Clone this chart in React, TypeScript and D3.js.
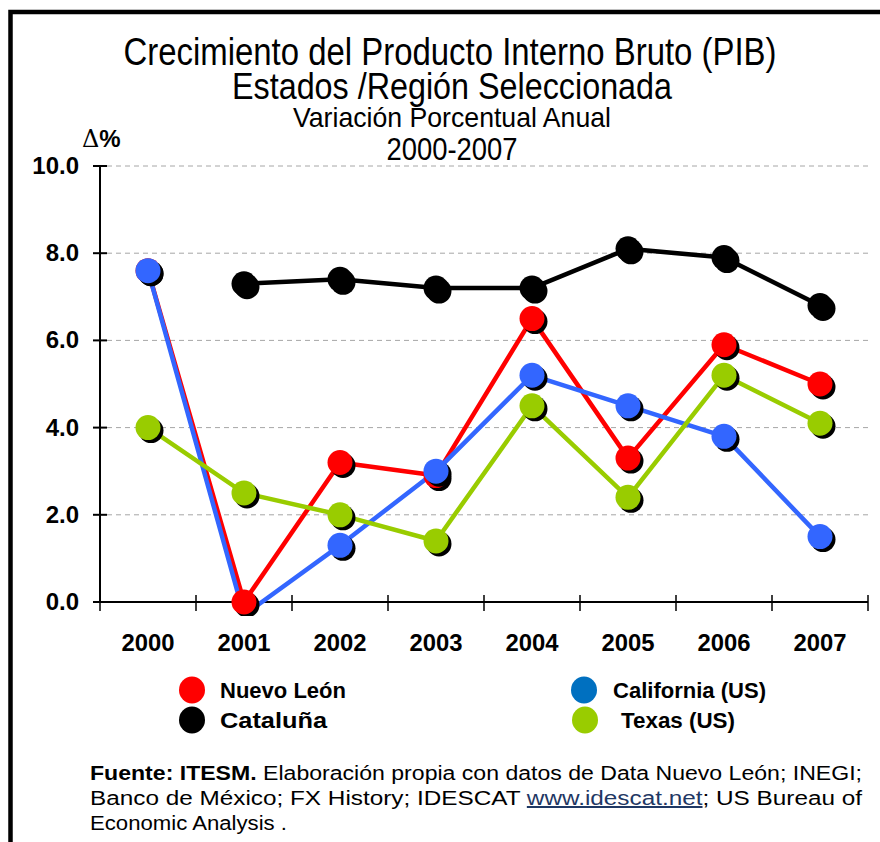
import React from 'react';
import * as d3 from 'd3';

const years = ['2000', '2001', '2002', '2003', '2004', '2005', '2006', '2007'];
const nuevoLeon: (number | null)[] = [7.6, 0.0, 3.2, 2.9, 6.5, 3.3, 5.9, 5.0];
const california: (number | null)[] = [7.6, -0.3, 1.3, 3.0, 5.2, 4.5, 3.8, 1.5];
const cataluna: (number | null)[] = [null, 7.3, 7.4, 7.2, 7.2, 8.1, 7.9, 6.8];
const texas: (number | null)[] = [4.0, 2.5, 2.0, 1.4, 4.5, 2.4, 5.2, 4.1];
const yTicks = [0, 2, 4, 6, 8, 10];
const yTickLabels = ['0.0', '2.0', '4.0', '6.0', '8.0', '10.0'];

const titleLines = [
  'Crecimiento del Producto Interno Bruto (PIB)',
  'Estados /Región Seleccionada',
  'Variación Porcentual Anual',
  '2000-2007',
];

const series = [
  { name: 'Nuevo León', values: nuevoLeon, color: '#FF0000', legend: '#FF0000' },
  { name: 'California (US)', values: california, color: '#3366FF', legend: '#0070C0' },
  { name: 'Texas (US)', values: texas, color: '#99CC00', legend: '#99CC00' },
  { name: 'Cataluña', values: cataluna, color: '#000000', legend: '#000000' },
];

const W = 880;
const H = 842;
const narrow = "'Liberation Sans Narrow', 'Arial Narrow', 'Liberation Sans', Arial, sans-serif";
const sans = "'Liberation Sans', Arial, Helvetica, sans-serif";

export default function App() {
  const x = d3.scaleBand<string>().domain(years).range([100, 868]);
  const y = d3.scaleLinear().domain([0, 10]).range([602, 166]);
  const cx = (i: number) => (x(years[i]) as number) + x.bandwidth() / 2;

  const line = d3
    .line<number | null>()
    .defined((d) => d !== null)
    .x((_, i) => cx(i))
    .y((d) => y(d as number));

  const boundaries = [...years.map((yr) => x(yr) as number), x.range()[1]];
  const [yMin, yMax] = y.domain();

  const legendItems = [
    { s: series[0], lx: 192, ly: 690, tx: 220, w: 126 },
    { s: series[3], lx: 192, ly: 720, tx: 220, w: 107 },
    { s: series[1], lx: 584, ly: 690, tx: 613, w: 153 },
    { s: series[2], lx: 585, ly: 720, tx: 621, w: 114 },
  ];

  return (
    <svg
      width={W}
      height={H}
      style={{ position: 'absolute', left: 0, top: 0, background: '#fff' }}
    >
      <defs>
        <clipPath id="plotClip">
          <rect x={90} y={140} width={790} height={476} />
        </clipPath>
      </defs>
      <rect x={0} y={0} width={W} height={H} fill="#fff" />
      {/* frame */}
      <path d={`M10.5,${H} V12 H${W}`} fill="none" stroke="#000" strokeWidth={4.5} />

      {/* titles */}
      <text x={450} y={65} textAnchor="middle" fontFamily={narrow} fontSize={38} textLength={653} lengthAdjust="spacingAndGlyphs">
        {titleLines[0]}
      </text>
      <text x={452} y={99} textAnchor="middle" fontFamily={narrow} fontSize={36} textLength={440} lengthAdjust="spacingAndGlyphs">
        {titleLines[1]}
      </text>
      <text x={452} y={127} textAnchor="middle" fontFamily={narrow} fontSize={28} textLength={318} lengthAdjust="spacingAndGlyphs">
        {titleLines[2]}
      </text>
      <text x={452} y={160} textAnchor="middle" fontFamily={narrow} fontSize={31} textLength={131} lengthAdjust="spacingAndGlyphs">
        {titleLines[3]}
      </text>

      {/* delta percent */}
      <text x={82} y={147} fontFamily={sans} fontSize={24} fontWeight="bold">
        <tspan fontFamily="'DejaVu Serif', 'Liberation Serif', serif" fontWeight="normal">Δ</tspan>
        <tspan>%</tspan>
      </text>

      {/* grid */}
      {yTicks.filter((t) => t > 0).map((t) => (
        <line key={'g' + t} x1={107} x2={868} y1={y(t)} y2={y(t)} stroke="#A6A6A6" strokeWidth={1} strokeDasharray="5,4" />
      ))}

      {/* y axis */}
      <line x1={100} x2={100} y1={y(10)} y2={y(0)} stroke="#000" strokeWidth={2} />
      {yTicks.map((t, i) => (
        <g key={'yt' + t}>
          <line x1={93} x2={107} y1={y(t)} y2={y(t)} stroke="#000" strokeWidth={2} />
          <text x={79} y={y(t) + 8} textAnchor="end" fontFamily={sans} fontSize={24} fontWeight="bold">
            {yTickLabels[i]}
          </text>
        </g>
      ))}

      {/* x axis */}
      <line x1={93} x2={868} y1={y(0)} y2={y(0)} stroke="#000" strokeWidth={2} />
      {boundaries.map((b, i) => (
        <line key={'xt' + i} x1={b} x2={b} y1={y(0) - 7} y2={y(0) + 9} stroke="#000" strokeWidth={1.5} />
      ))}
      {years.map((yr, i) => (
        <text key={'xl' + yr} x={cx(i)} y={651} textAnchor="middle" fontFamily={sans} fontSize={24} fontWeight="bold" textLength={53} lengthAdjust="spacingAndGlyphs">
          {yr}
        </text>
      ))}

      {/* series */}
      <g clipPath="url(#plotClip)">
        {series.map((s) => (
          <path key={'l' + s.name} d={line(s.values) || ''} fill="none" stroke={s.color} strokeWidth={4.5} strokeLinejoin="round" />
        ))}
        {series.map((s) => (
          <g key={'m' + s.name}>
            {s.values.map((v, i) =>
              v === null || v < yMin || v > yMax ? null : (
                <g key={i}>
                  <circle cx={cx(i) + 3} cy={y(v) + 3} r={12.5} fill="#000" />
                  <circle cx={cx(i)} cy={y(v)} r={12.5} fill={s.color} />
                </g>
              )
            )}
          </g>
        ))}
      </g>

      {/* legend */}
      {legendItems.map((it) => (
        <g key={'lg' + it.s.name}>
          <ellipse cx={it.lx} cy={it.ly} rx={13} ry={13.5} fill={it.s.legend} />
          <text x={it.tx} y={it.ly + 8} fontFamily={sans} fontSize={22} fontWeight="bold" textLength={it.w} lengthAdjust="spacingAndGlyphs">
            {it.s.name}
          </text>
        </g>
      ))}

      {/* footer */}
      <text x={90} y={780} fontFamily={sans} fontSize={20} textLength={772} lengthAdjust="spacingAndGlyphs">
        <tspan fontWeight="bold">Fuente: ITESM.</tspan>
        <tspan> Elaboración propia con datos de Data Nuevo León; INEGI;</tspan>
      </text>
      <text x={90} y={805} fontFamily={sans} fontSize={20} textLength={772} lengthAdjust="spacingAndGlyphs">
        <tspan>Banco de México; FX History; IDESCAT </tspan>
        <tspan fill="#1F3864" style={{ textDecoration: 'underline' }}>www.idescat.net</tspan>
        <tspan>; US Bureau of</tspan>
      </text>
      <text x={90} y={830} fontFamily={sans} fontSize={20} textLength={197} lengthAdjust="spacingAndGlyphs">
        Economic Analysis .
      </text>
    </svg>
  );
}
